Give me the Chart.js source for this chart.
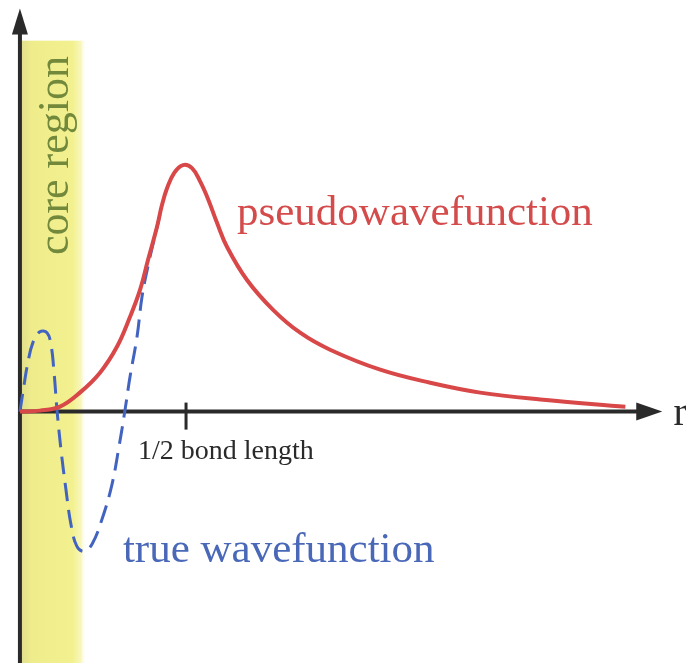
<!DOCTYPE html>
<html>
<head>
<meta charset="utf-8">
<script src="https://cdn.jsdelivr.net/npm/chart.js@4"></script>
<style>
  html, body { margin: 0; padding: 0; background: #fff; }
  #wrap { width: 686px; height: 663px; position: relative; }
</style>
</head>
<body>
<div id="wrap"><canvas id="wavefunctions"></canvas></div>
<script>
// r in units of half a bond length, psi scaled so the pseudo peak is 1
const pseudoR = [0, 0.12, 0.241, 0.361, 0.482, 0.584, 0.663, 0.723, 0.771, 0.825, 0.855, 0.886, 0.928, 0.982, 1.036, 1.084, 1.133, 1.187, 1.247, 1.367, 1.524, 1.687, 1.867, 2.169, 2.47, 2.771, 3.133, 3.645];
const pseudoPsi = [0, 0.004, 0.020, 0.077, 0.158, 0.263, 0.385, 0.494, 0.615, 0.749, 0.838, 0.907, 0.968, 1.000, 0.988, 0.935, 0.862, 0.765, 0.668, 0.534, 0.413, 0.320, 0.251, 0.170, 0.117, 0.077, 0.049, 0.020];

const trueR = [0, 0.024, 0.048, 0.078, 0.120, 0.163, 0.187, 0.205, 0.223, 0.247, 0.277, 0.307, 0.343, 0.386, 0.434, 0.494, 0.554, 0.597, 0.633, 0.663, 0.705, 0.735, 0.771, 0.813, 0.843];
const truePsi = [0, 0.105, 0.20, 0.28, 0.324, 0.32, 0.271, 0.162, 0.008, -0.154, -0.316, -0.457, -0.547, -0.567, -0.538, -0.437, -0.296, -0.14, 0.008, 0.142, 0.304, 0.466, 0.59, 0.713, 0.80];

const coreRadius = 0.36;
const bondTick = 1;
const bondLabel = "1/2 bond length";

function toPoints(xs, ys) {
  return xs.map((x, i) => ({ x: x, y: ys[i] }));
}

const decorations = {
  id: "decorations",
  beforeDatasetsDraw(chart) {
    const ctx = chart.ctx;
    const sx = chart.scales.x;
    const sy = chart.scales.y;
    const x0 = sx.getPixelForValue(0);
    const y0 = sy.getPixelForValue(0);
    const h = chart.height;

    // core region band
    const bx1 = sx.getPixelForValue(0.012);
    const bx2 = sx.getPixelForValue(coreRadius);
    const top = sy.getPixelForValue(1.505);
    const grad = ctx.createLinearGradient(bx1, 0, bx2 + 6, 0);
    grad.addColorStop(0, "#e2e08c");
    grad.addColorStop(0.15, "#eeec8b");
    grad.addColorStop(0.8, "#f3f18f");
    grad.addColorStop(0.92, "rgba(246,244,170,0.8)");
    grad.addColorStop(1, "rgba(250,250,220,0)");
    ctx.save();
    ctx.fillStyle = grad;
    ctx.fillRect(bx1, top, bx2 + 6 - bx1, h - top);

    ctx.translate(sx.getPixelForValue(0.29), sy.getPixelForValue(0.635));
    ctx.rotate(-Math.PI / 2);
    ctx.fillStyle = "#72893c";
    ctx.font = "44px 'Liberation Serif'";
    ctx.textBaseline = "alphabetic";
    ctx.fillText("core region", 0, 0);
    ctx.restore();

    // axes
    ctx.save();
    ctx.strokeStyle = "#2a2a2a";
    ctx.fillStyle = "#2a2a2a";
    ctx.lineWidth = 4;
    const yTip = sy.getPixelForValue(1.636);
    const xTip = sx.getPixelForValue(3.867);
    ctx.beginPath();
    ctx.moveTo(x0, h);
    ctx.lineTo(x0, yTip + 20);
    ctx.moveTo(x0, y0);
    ctx.lineTo(xTip - 20, y0);
    ctx.stroke();

    ctx.beginPath();
    ctx.moveTo(x0, yTip);
    ctx.lineTo(x0 - 8, yTip + 26);
    ctx.lineTo(x0 + 8, yTip + 26);
    ctx.closePath();
    ctx.fill();

    ctx.beginPath();
    ctx.moveTo(xTip, y0);
    ctx.lineTo(xTip - 26, y0 - 9);
    ctx.lineTo(xTip - 26, y0 + 9);
    ctx.closePath();
    ctx.fill();

    // half bond length tick
    const tx = sx.getPixelForValue(bondTick);
    ctx.lineWidth = 3;
    ctx.beginPath();
    ctx.moveTo(tx, y0 - 9);
    ctx.lineTo(tx, y0 + 18);
    ctx.stroke();

    ctx.font = "28px 'Liberation Serif'";
    ctx.fillText(bondLabel, sx.getPixelForValue(0.711), sy.getPixelForValue(-0.194));

    ctx.font = "40px 'Liberation Serif'";
    ctx.fillText("r", sx.getPixelForValue(3.934), sy.getPixelForValue(-0.053));
    ctx.restore();
  },
  afterDatasetsDraw(chart) {
    const ctx = chart.ctx;
    const sx = chart.scales.x;
    const sy = chart.scales.y;
    ctx.save();
    ctx.font = "43px 'Liberation Serif'";
    ctx.fillStyle = "#d44b4b";
    ctx.fillText("pseudowavefunction", sx.getPixelForValue(1.307), sy.getPixelForValue(0.757));
    ctx.fillStyle = "#4a68b8";
    ctx.fillText("true wavefunction", sx.getPixelForValue(0.62), sy.getPixelForValue(-0.611));
    ctx.restore();
  },
};

new Chart(document.getElementById("wavefunctions"), {
  type: "line",
  data: {
    datasets: [
      {
        label: "pseudowavefunction",
        data: toPoints(pseudoR, pseudoPsi),
        borderColor: "#d84848",
        borderWidth: 4,
        pointRadius: 0,
        tension: 0.4,
        order: 1,
      },
      {
        label: "true wavefunction",
        data: toPoints(trueR, truePsi),
        borderColor: "#4264c0",
        borderWidth: 3,
        borderDash: [18, 9],
        pointRadius: 0,
        tension: 0.4,
        order: 2,
      },
    ],
  },
  options: {
    responsive: true,
    maintainAspectRatio: false,
    animation: false,
    layout: { padding: 0 },
    plugins: { legend: { display: false }, tooltip: { enabled: false } },
    scales: {
      x: { type: "linear", min: -0.12, max: 4.01, display: false },
      y: { type: "linear", min: -1.02, max: 1.67, display: false },
    },
  },
  plugins: [decorations],
});
</script>
</body>
</html>
